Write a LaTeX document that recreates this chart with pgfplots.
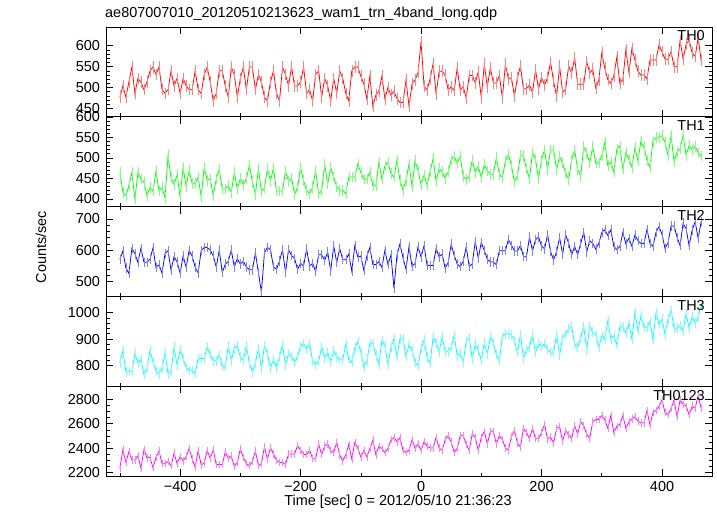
\documentclass[border=0pt]{standalone}
\usepackage{pgfplots}
\pgfplotsset{compat=1.18}
\usepackage{pgfplotstable}
\usepackage{fontspec}
\setmainfont{Liberation Sans}
\pgfplotstableread{
t a b c d e
-500 477 464 570 810 2235
-495 504 416 597 855 2389
-490 477 408 543 777 2286
-485 513 432 525 777 2372
-480 549 464 606 777 2303
-475 486 400 588 844 2303
-470 522 464 561 810 2338
-465 513 448 606 822 2235
-460 495 440 561 766 2389
-455 513 408 561 788 2321
-450 540 427 571 858 2326
-445 549 419 607 813 2240
-440 531 467 544 780 2326
-435 549 419 553 769 2377
-430 495 427 526 791 2274
-425 486 403 589 847 2274
-420 495 505 598 769 2291
-415 540 451 535 780 2257
-410 504 435 580 869 2360
-405 522 459 562 802 2274
-400 486 405 527 860 2331
-395 522 477 581 827 2296
-390 504 429 545 793 2331
-385 495 469 599 782 2399
-380 495 437 581 782 2313
-375 540 437 545 771 2245
-370 495 453 527 827 2382
-365 486 405 599 827 2262
-360 531 477 608 827 2279
-355 549 445 608 871 2382
-350 513 448 600 841 2318
-345 468 408 582 818 2387
-340 486 448 546 818 2267
-335 540 472 600 841 2267
-330 540 424 528 796 2267
-325 504 424 555 796 2370
-320 477 432 564 874 2318
-315 549 416 600 818 2336
-310 531 464 546 863 2250
-305 477 424 573 874 2284
-300 522 450 555 832 2394
-295 549 434 564 820 2325
-290 495 450 546 876 2274
-285 549 482 537 809 2257
-280 549 442 537 776 2291
-275 495 410 591 809 2377
-270 531 474 528 865 2257
-265 513 418 465 787 2274
-260 477 426 591 876 2411
-255 468 474 609 843 2308
-250 513 443 601 790 2404
-245 540 475 547 823 2353
-240 486 419 538 790 2301
-235 468 419 565 835 2284
-230 549 419 601 879 2284
-225 531 467 529 801 2267
-220 504 443 601 846 2353
-215 549 451 583 835 2353
-210 504 411 574 812 2353
-205 504 427 538 835 2421
-200 513 476 558 872 2383
-195 549 444 549 883 2348
-190 486 420 603 861 2348
-185 495 412 549 883 2383
-180 468 428 558 816 2314
-175 531 468 531 805 2314
-170 540 412 585 816 2434
-165 477 420 585 872 2348
-160 522 484 567 827 2417
-155 504 436 594 850 2434
-150 468 477 533 811 2381
-145 522 453 614 856 2363
-140 486 429 560 833 2449
-135 540 421 605 822 2346
-130 522 421 569 822 2295
-125 486 413 569 878 2346
-120 468 453 587 822 2432
-115 540 453 533 811 2312
-110 549 453 614 867 2449
-105 549 485 578 889 2398
-100 527 464 581 851 2329
-95 509 448 536 795 2380
-90 473 448 581 817 2329
-85 527 464 608 884 2398
-80 455 432 554 884 2466
-75 482 432 554 839 2346
-70 491 488 563 806 2415
-65 527 448 545 895 2398
-60 473 480 599 873 2363
-55 500 488 554 806 2398
-50 482 461 584 868 2469
-45 491 453 478 901 2486
-40 473 493 584 834 2452
-35 464 445 620 901 2486
-30 464 421 575 901 2383
-25 518 445 539 834 2366
-20 455 485 611 879 2383
-15 509 429 548 857 2469
-10 518 493 557 812 2400
-5 536 469 611 801 2435
0 610 434 578 864 2384
5 503 458 614 897 2453
10 494 434 551 830 2418
15 521 466 551 808 2401
20 557 498 551 908 2401
25 485 442 605 886 2487
30 539 474 578 852 2401
35 539 466 587 908 2384
40 530 450 542 852 2470
45 494 466 560 852 2504
50 502 495 619 870 2451
55 493 503 583 914 2365
60 547 487 556 836 2399
65 493 503 547 847 2502
70 502 455 565 814 2502
75 475 447 610 892 2433
80 529 455 547 903 2382
85 529 495 556 825 2519
90 511 463 628 881 2485
95 538 479 574 858 2382
100 475 452 625 820 2487
105 556 484 598 887 2538
110 502 468 571 842 2435
115 547 460 562 909 2538
120 511 460 562 887 2538
125 511 500 553 842 2435
130 529 460 598 820 2504
135 475 452 598 909 2470
140 556 492 598 920 2401
145 520 508 634 920 2384
150 524 481 615 916 2495
155 479 441 597 894 2546
160 524 457 597 849 2443
165 551 505 615 916 2409
170 497 505 579 827 2563
175 497 473 579 860 2529
180 506 449 642 871 2477
185 488 513 597 916 2563
190 542 497 633 849 2477
195 497 449 642 883 2477
200 524 495 613 872 2527
205 506 519 604 883 2595
210 524 471 649 861 2475
215 560 519 595 850 2492
220 515 519 568 850 2441
225 479 471 595 917 2561
230 551 503 640 839 2578
235 488 487 586 906 2458
240 497 463 649 917 2544
245 551 447 622 939 2509
250 535 495 585 948 2481
255 571 519 612 881 2584
260 508 471 585 870 2515
265 508 455 621 903 2618
270 508 527 657 948 2584
275 562 511 594 859 2515
280 535 487 630 948 2481
285 544 527 621 926 2618
290 499 487 603 915 2635
295 517 487 621 870 2635
300 582 505 656 912 2666
305 546 537 665 901 2632
310 519 481 647 968 2563
315 510 489 665 901 2666
320 528 465 611 912 2529
325 573 521 602 879 2580
330 510 529 611 946 2597
335 519 473 656 946 2666
340 591 513 620 923 2563
345 537 497 638 957 2615
350 593 477 612 899 2640
355 566 525 648 999 2657
360 539 493 630 932 2623
365 530 541 621 988 2606
370 530 525 621 943 2606
375 521 493 666 943 2709
380 566 477 621 966 2589
385 566 541 612 899 2692
390 566 549 657 999 2709
395 602 549 675 955 2743
400 586 554 650 975 2794
405 568 538 605 919 2691
410 568 506 623 975 2674
415 586 554 677 1008 2725
420 550 490 677 941 2794
425 550 514 641 941 2657
430 613 522 614 952 2794
435 568 554 686 930 2760
440 604 506 668 997 2743
445 613 530 614 941 2674
450 583 520 664 984 2744
455 574 528 691 961 2727
460 619 512 637 984 2830
465 565 504 691 1028 2727
}\datatab

\definecolor{qgreen}{RGB}{0,255,0}
\definecolor{qcyan}{RGB}{0,255,255}
\definecolor{qmag}{RGB}{255,0,255}

\pgfplotsset{
  panel/.style={
    scale only axis, width=606bp, height=89.8bp,
    anchor=north west,
    xmin=-523, xmax=483,
    xtick={-400,-200,0,200,400},
    minor xtick={-500,-300,-100,100,300},
    xticklabels={},
    tick align=inside,
    major tick length=7bp, minor tick length=3.5bp,
    axis line style={line width=0.8pt},
    every tick/.style={black, line width=0.6pt},
    ticklabel style={font=\fontsize{14.5}{17}\selectfont},
    /pgf/number format/assume math mode=true,
    /pgf/number format/1000 sep={},
    yticklabel style={xshift=-1bp},
    clip=true,
  },
  trace/.style={line width=0.75pt},
  ebar/.style 2 args={error bars/.cd, y dir=both, y fixed=#1,
     error mark=none, error bar style={color=#2, line width=0.5pt}},
}

\begin{document}
\begin{tikzpicture}[x=1bp,y=1bp]
\path[use as bounding box] (0,0) rectangle (717,-516);
\fontsize{14.5}{17}\selectfont

\begin{axis}[panel, at={(106bp,-27bp)}, ymin=430, ymax=645,
  ytick={450,500,550,600}, minor y tick num=4]
\addplot[trace, red, ebar={14}{red!50}] table[x=t,y=a]{\datatab};
\node[anchor=north east, inner sep=1bp] at (rel axis cs:0.99,0.97) {TH0};
\end{axis}

\begin{axis}[panel, at={(106bp,-116.8bp)}, ymin=381, ymax=600,
  ytick={400,450,500,550,600}, minor y tick num=4]
\addplot[trace, qgreen, ebar={13}{qgreen!50}] table[x=t,y=b]{\datatab};
\node[anchor=north east, inner sep=1bp] at (rel axis cs:0.99,0.97) {TH1};
\end{axis}

\begin{axis}[panel, at={(106bp,-206.6bp)}, ymin=452, ymax=739,
  ytick={500,600,700}, minor y tick num=4]
\addplot[trace, blue, ebar={15}{blue!50}] table[x=t,y=c]{\datatab};
\node[anchor=north east, inner sep=1bp] at (rel axis cs:0.99,0.97) {TH2};
\end{axis}

\begin{axis}[panel, at={(106bp,-296.4bp)}, ymin=722, ymax=1061,
  ytick={800,900,1000}, minor y tick num=4]
\addplot[trace, qcyan, ebar={18}{qcyan!50}] table[x=t,y=d]{\datatab};
\node[anchor=north east, inner sep=1bp] at (rel axis cs:0.99,0.97) {TH3};
\end{axis}

\begin{axis}[panel, at={(106bp,-386.2bp)}, ymin=2173, ymax=2907,
  ytick={2200,2400,2600,2800}, minor y tick num=3,
  xticklabels={−400,−200,0,200,400}]
\addplot[trace, qmag, ebar={30}{qmag!50}] table[x=t,y=e]{\datatab};
\node[anchor=north east, inner sep=1bp] at (rel axis cs:0.99,0.97) {TH0123};
\end{axis}

\node[anchor=west, inner sep=0pt] at (105,-14) {ae807007010\_20120510213623\_wam1\_trn\_4band\_long.qdp};
\node[rotate=90, inner sep=0pt] at (41,-247) {Counts/sec};
\node[inner sep=0pt] at (398,-502) {Time [sec] 0 = 2012/05/10 21:36:23};
\end{tikzpicture}
\end{document}
